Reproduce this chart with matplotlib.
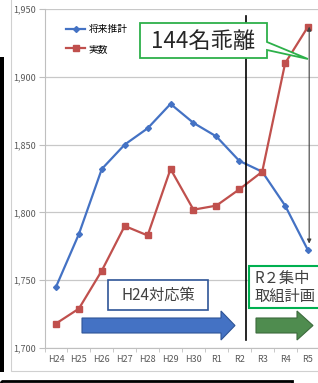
import matplotlib
matplotlib.use('Agg')
import numpy as np
import matplotlib.pyplot as plt
import matplotlib.ticker as mticker
from matplotlib.patches import Rectangle, Polygon
from matplotlib.transforms import Affine2D

# data
years = ['H24', 'H25', 'H26', 'H27', 'H28', 'H29', 'H30', 'R1', 'R2', 'R3', 'R4', 'R5']
forecast = [1745, 1784, 1832, 1850, 1862, 1880, 1866, 1856, 1838, 1830, 1805, 1772]
actual = [1718, 1729, 1757, 1790, 1783, 1832, 1802, 1805, 1817, 1830, 1910, 1937]
yticks = [1700, 1750, 1800, 1850, 1900, 1950]

plt.rcParams['font.family'] = ['Noto Sans CJK JP', 'DejaVu Sans']

W, H = 318, 383
fig = plt.figure(figsize=(W / 100, H / 100), dpi=100)
# pixel coords (origin top-left) -> figure
px = Affine2D().scale(1 / W, -1 / H).translate(0, 1) + fig.transFigure

ax = fig.add_axes([44.5 / W, 35 / H, 275 / W, 339 / H])
x = np.arange(len(years))
ax.plot(x, forecast, color='#4472C4', lw=1.6, marker='D', ms=3, label='将来推計', zorder=3)
ax.plot(x, actual, color='#C0504D', lw=1.6, marker='s', ms=4, label='実数', zorder=3)

ax.set_xlim(-0.5, 11.5)
ax.set_ylim(1700, 1950)
ax.set_yticks(yticks)
ax.yaxis.set_major_formatter(mticker.FuncFormatter(lambda v, p: f'{v:,.0f}'))
ax.grid(axis='y', color='#C8C8C8', lw=0.9)
ax.set_axisbelow(True)
for s in ['top', 'right']:
    ax.spines[s].set_visible(False)
ax.spines['left'].set_color('#BFBFBF')
ax.spines['bottom'].set_color('#BFBFBF')
ax.set_xticks(x)
ax.set_xticklabels(years)
ax.set_xticks(np.arange(-0.5, 12, 1), minor=True)
ax.tick_params(axis='x', which='major', length=0, pad=5, labelsize=6.5, labelcolor='#595959')
ax.tick_params(axis='x', which='minor', length=3, color='#BFBFBF')
ax.tick_params(axis='y', length=4, color='#BFBFBF', labelsize=6.5, labelcolor='#595959', pad=2)

ax.legend(loc='upper left', bbox_to_anchor=(66 / W, 1 - 24 / H), bbox_transform=fig.transFigure,
          frameon=False, fontsize=7, handlelength=2.0, labelspacing=1.0, handletextpad=0.3,
          borderaxespad=0, borderpad=0)

# R2 split line and gap arrow
ax.plot([8.3, 8.3], [1945, 1706], color='black', lw=1.2, zorder=4)
ax.annotate('', xy=(11.05, 1937), xytext=(11.05, 1777),
            arrowprops=dict(arrowstyle='<|-|>', color='#404040', lw=0.8, mutation_scale=6,
                            shrinkA=0, shrinkB=0))

# callout
green = '#2DB04A'
call = [(140, 23), (267, 23), (267, 42), (308, 59), (267, 50), (267, 58), (140, 58)]
fig.add_artist(Polygon(call, closed=True, transform=px, facecolor='white', edgecolor=green, lw=1.3, zorder=5))
fig.text(203, 41, '144名乖離', transform=px, ha='center', va='center', fontsize=16, color='#262626', zorder=6)

# policy boxes
fig.add_artist(Rectangle((108, 280), 100, 30, transform=px, facecolor='white', edgecolor='#2F5597', lw=1.2, zorder=5))
fig.text(158, 295, 'H24対応策', transform=px, ha='center', va='center', fontsize=11, color='#404040', zorder=6)
fig.add_artist(Rectangle((249, 266), 90, 42, transform=px, facecolor='white', edgecolor='#00B050', lw=1.5, zorder=5))
fig.text(255, 278, 'R２集中', transform=px, ha='left', va='center', fontsize=11, color='#404040', zorder=6)
fig.text(255, 297, '取組計画', transform=px, ha='left', va='center', fontsize=11, color='#404040', zorder=6)

# block arrows
blue_arrow = [(82, 318), (221, 318), (221, 311), (235, 325.5), (221, 340), (221, 333), (82, 333)]
fig.add_artist(Polygon(blue_arrow, closed=True, transform=px, facecolor='#4472C4', edgecolor='#2F5597', lw=0.8, zorder=5))
green_arrow = [(256, 318), (297, 318), (297, 311), (313, 325.5), (297, 340), (297, 333), (256, 333)]
fig.add_artist(Polygon(green_arrow, closed=True, transform=px, facecolor='#4F8C4F', edgecolor='#3D6B3D', lw=0.8, zorder=5))

# page decorations
fig.add_artist(Rectangle((10.5, -5), 330, 376, transform=px, fill=False, edgecolor='#D0D0D0', lw=0.8, zorder=1))
fig.add_artist(Rectangle((0, 57), 4, 315, transform=px, facecolor='black', edgecolor='none', zorder=5))
fig.add_artist(Rectangle((1, 380.5), 291, 20, transform=px, fill=False, edgecolor='black', lw=2, zorder=5))

fig.savefig('out.png', dpi=100)
